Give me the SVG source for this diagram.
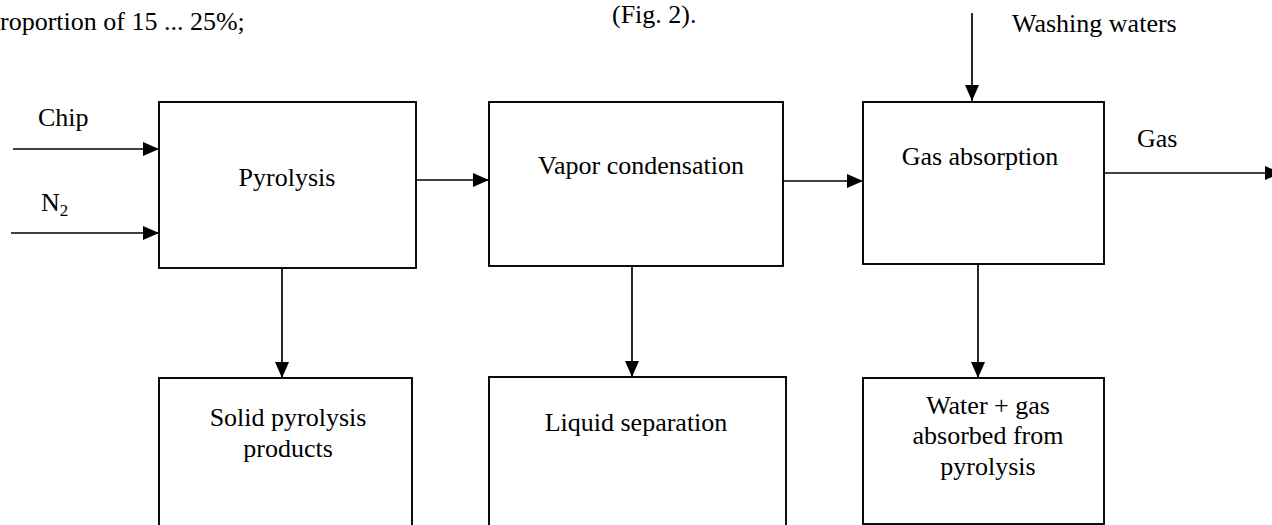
<svg xmlns="http://www.w3.org/2000/svg" width="1272" height="525" viewBox="0 0 1272 525">
<style>
text{font-family:"Liberation Serif","Times New Roman",serif;font-size:26px;fill:#000}
.c{text-anchor:middle}
.box{fill:#fff;stroke:#000;stroke-width:1.9}
.ln{stroke:#000;stroke-width:1.7;fill:none;marker-end:url(#ah)}
</style>
<defs>
<marker id="ah" markerUnits="userSpaceOnUse" markerWidth="17" markerHeight="15" refX="16" refY="7.5" orient="auto">
<path d="M0,0.5 L16,7.5 L0,14.5 z" fill="#000"/>
</marker>
</defs>
<rect width="1272" height="525" fill="#fff"/>
<g id="context-text">
<text x="0" y="30">roportion of 15 ... 25%;</text>
<text x="612" y="23">(Fig. 2).</text>
</g>
<g id="connectors">
<line class="ln" x1="13" y1="149" x2="159" y2="149"/>
<line class="ln" x1="11" y1="233" x2="159" y2="233"/>
<line class="ln" x1="416" y1="180" x2="489" y2="180"/>
<line class="ln" x1="783" y1="181" x2="863" y2="181"/>
<line class="ln" x1="972" y1="13" x2="972" y2="101"/>
<line class="ln" x1="1104" y1="173" x2="1281" y2="173"/>
<line class="ln" x1="282" y1="268" x2="282" y2="378"/>
<line class="ln" x1="632" y1="266" x2="632" y2="377"/>
<line class="ln" x1="978" y1="264" x2="978" y2="378"/>
<text x="38" y="126">Chip</text>
<text x="41" y="211">N<tspan font-size="17" dy="5">2</tspan></text>
<text x="1137" y="147">Gas</text>
<text x="1012" y="32">Washing waters</text>
</g>
<g id="pyrolysis">
<rect class="box" x="159" y="102" width="257" height="166"/>
<text class="c" x="287" y="186">Pyrolysis</text>
</g>
<g id="vapor-condensation">
<rect class="box" x="489" y="102" width="294" height="164"/>
<text class="c" x="641" y="174">Vapor condensation</text>
</g>
<g id="gas-absorption">
<rect class="box" x="863" y="102" width="241" height="162"/>
<text class="c" x="980" y="165">Gas absorption</text>
</g>
<g id="solid-products">
<rect class="box" x="159" y="378" width="253" height="170"/>
<text class="c" x="288" y="426">Solid pyrolysis</text>
<text class="c" x="288" y="457">products</text>
</g>
<g id="liquid-separation">
<rect class="box" x="489" y="377" width="297" height="170"/>
<text class="c" x="636" y="431">Liquid separation</text>
</g>
<g id="water-gas">
<rect class="box" x="863" y="378" width="241" height="146"/>
<text class="c" x="988" y="414">Water + gas</text>
<text class="c" x="988" y="444">absorbed from</text>
<text class="c" x="988" y="475">pyrolysis</text>
</g>
</svg>
